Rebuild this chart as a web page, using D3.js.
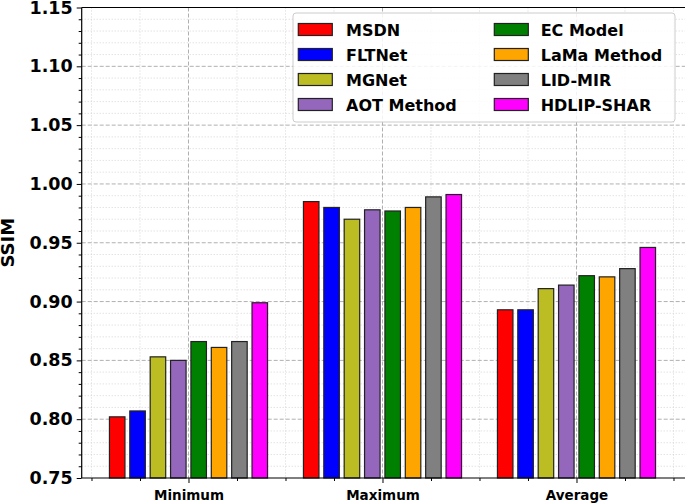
<!DOCTYPE html>
<html>
<head>
<meta charset="utf-8">
<script src="https://cdn.jsdelivr.net/npm/d3@7"></script>
<style>
body { margin: 0; background: #fff; }
svg { display: block; font-family: "DejaVu Sans", sans-serif; font-weight: bold; }
.grid-major { stroke: #b0b0b0; stroke-width: 1; stroke-dasharray: 4,2; }
.grid-minor { stroke: #cccccc; stroke-width: 0.8; stroke-dasharray: 1,2; }
</style>
</head>
<body>
<script>
var categories = ["Minimum", "Maximum", "Average"];
var methods = ["MSDN", "FLTNet", "MGNet", "AOT Method", "EC Model", "LaMa Method", "LID-MIR", "HDLIP-SHAR"];
var colors = ["#ff0000", "#0000ff", "#bcbd22", "#9467bd", "#008000", "#ffa500", "#808080", "#ff00ff"];
// one array per category, values in method order
var minVals = [0.802, 0.807, 0.853, 0.850, 0.866, 0.861, 0.866, 0.899];
var maxVals = [0.985, 0.980, 0.970, 0.978, 0.977, 0.980, 0.989, 0.991];
var avgVals = [0.893, 0.893, 0.911, 0.914, 0.922, 0.921, 0.928, 0.946];
var yTicks = [0.75, 0.80, 0.85, 0.90, 0.95, 1.00, 1.05, 1.10, 1.15];

var values = [minVals, maxVals, avgVals];

var W = 685, H = 503;
var pLeft = 81.7, pTop = 7.5, pBottom = 478;

var svg = d3.select("body").append("svg")
    .attr("width", W)
    .attr("height", H)
    .style("overflow", "hidden");

var x = d3.scaleLinear().domain([-0.5505, 2.6]).range([pLeft, pLeft + 3.1505 * 194]);
var y = d3.scaleLinear().domain([0.75, 1.15]).range([pBottom, pTop]);

var pRight = x.range()[1];
var pitch = 0.105, bw = 0.08;

// minor grid
var yMinor = d3.range(75, 116).map(function (d) { return d / 100; }).filter(function (d) { return Math.round(d * 100) % 5 != 0; });
var xMinor = [-0.5, -0.25, 0.25, 0.5, 0.75, 1.25, 1.5, 1.75, 2.25, 2.5];
var xMajor = [0, 1, 2];

var g = svg.append("g");
g.selectAll("line.ymin").data(yMinor).enter().append("line")
    .attr("class", "grid-minor")
    .attr("x1", pLeft).attr("x2", pRight)
    .attr("y1", function (d) { return y(d); }).attr("y2", function (d) { return y(d); });
g.selectAll("line.xmin").data(xMinor).enter().append("line")
    .attr("class", "grid-minor")
    .attr("y1", pTop).attr("y2", pBottom)
    .attr("x1", function (d) { return x(d); }).attr("x2", function (d) { return x(d); });
g.selectAll("line.ymaj").data(yTicks.slice(1, -1)).enter().append("line")
    .attr("class", "grid-major")
    .attr("x1", pLeft).attr("x2", pRight)
    .attr("y1", function (d) { return y(d); }).attr("y2", function (d) { return y(d); });
g.selectAll("line.xmaj").data(xMajor).enter().append("line")
    .attr("class", "grid-major")
    .attr("y1", pTop).attr("y2", pBottom)
    .attr("x1", function (d) { return x(d); }).attr("x2", function (d) { return x(d); });

// bars
for (var c = 0; c < categories.length; c++) {
    for (var m = 0; m < methods.length; m++) {
        var cx = c + (m - 3.5) * pitch;
        svg.append("rect")
            .attr("x", x(cx - bw / 2))
            .attr("y", y(values[c][m]))
            .attr("width", x(cx + bw / 2) - x(cx - bw / 2))
            .attr("height", pBottom - y(values[c][m]))
            .attr("fill", colors[m])
            .attr("stroke", "#222")
            .attr("stroke-width", 1.2);
    }
}

// axes
var yAxis = d3.axisLeft(y).tickValues(yTicks).tickSize(5).tickPadding(4)
    .tickFormat(d3.format(".2f"));
var ya = svg.append("g").attr("transform", "translate(" + pLeft + ",0)").call(yAxis);
ya.select(".domain").remove();
ya.selectAll("text").attr("font-size", 17.5).attr("font-family", "DejaVu Sans").attr("font-weight", "bold").attr("fill", "#000");
ya.selectAll("line").attr("stroke", "#000");

var yMinorAxis = d3.axisLeft(y).tickValues(yMinor).tickSize(3).tickFormat("");
var ym = svg.append("g").attr("transform", "translate(" + pLeft + ",0)").call(yMinorAxis);
ym.select(".domain").remove();

var xAxis = d3.axisBottom(x).tickValues(xMajor).tickSize(5).tickPadding(7)
    .tickFormat(function (d) { return categories[d]; });
var xa = svg.append("g").attr("transform", "translate(0," + pBottom + ")").call(xAxis);
xa.select(".domain").remove();
xa.selectAll("text").attr("font-size", 13.5).attr("font-family", "DejaVu Sans").attr("font-weight", "bold").attr("fill", "#000");

var xMinorAxis = d3.axisBottom(x).tickValues(xMinor).tickSize(3).tickFormat("");
var xm = svg.append("g").attr("transform", "translate(0," + pBottom + ")").call(xMinorAxis);
xm.select(".domain").remove();

// spines
svg.append("line").attr("x1", pLeft).attr("x2", pLeft).attr("y1", pTop).attr("y2", pBottom).attr("stroke", "#000").attr("stroke-width", 1.2);
svg.append("line").attr("x1", pLeft).attr("x2", pRight).attr("y1", pBottom).attr("y2", pBottom).attr("stroke", "#000").attr("stroke-width", 1.2);
svg.append("line").attr("x1", pLeft).attr("x2", pRight).attr("y1", pTop).attr("y2", pTop).attr("stroke", "#000").attr("stroke-width", 1.2);

// y label
svg.append("text")
    .attr("transform", "translate(14," + (pTop + pBottom) / 2 + ") rotate(-90)")
    .attr("text-anchor", "middle")
    .attr("font-size", 18)
    .text("SSIM");

// legend
var lg = svg.append("g");
lg.append("rect")
    .attr("x", 293).attr("y", 13).attr("width", 382).attr("height", 109)
    .attr("rx", 3).attr("fill", "#fff").attr("fill-opacity", 0.85)
    .attr("stroke", "#cccccc").attr("stroke-width", 1);
methods.forEach(function (name, i) {
    var col = Math.floor(i / 4), row = i % 4;
    var px = col == 0 ? 298.3 : 494.3;
    var tx = col == 0 ? 346 : 540.7;
    var cy = 29.5 + row * 25;
    lg.append("rect")
        .attr("x", px).attr("y", cy - 6).attr("width", 34).attr("height", 12)
        .attr("fill", colors[i]).attr("stroke", "#222").attr("stroke-width", 1.2);
    lg.append("text")
        .attr("x", tx).attr("y", cy + 6)
        .attr("font-size", 16)
        .text(name);
});
</script>
</body>
</html>
